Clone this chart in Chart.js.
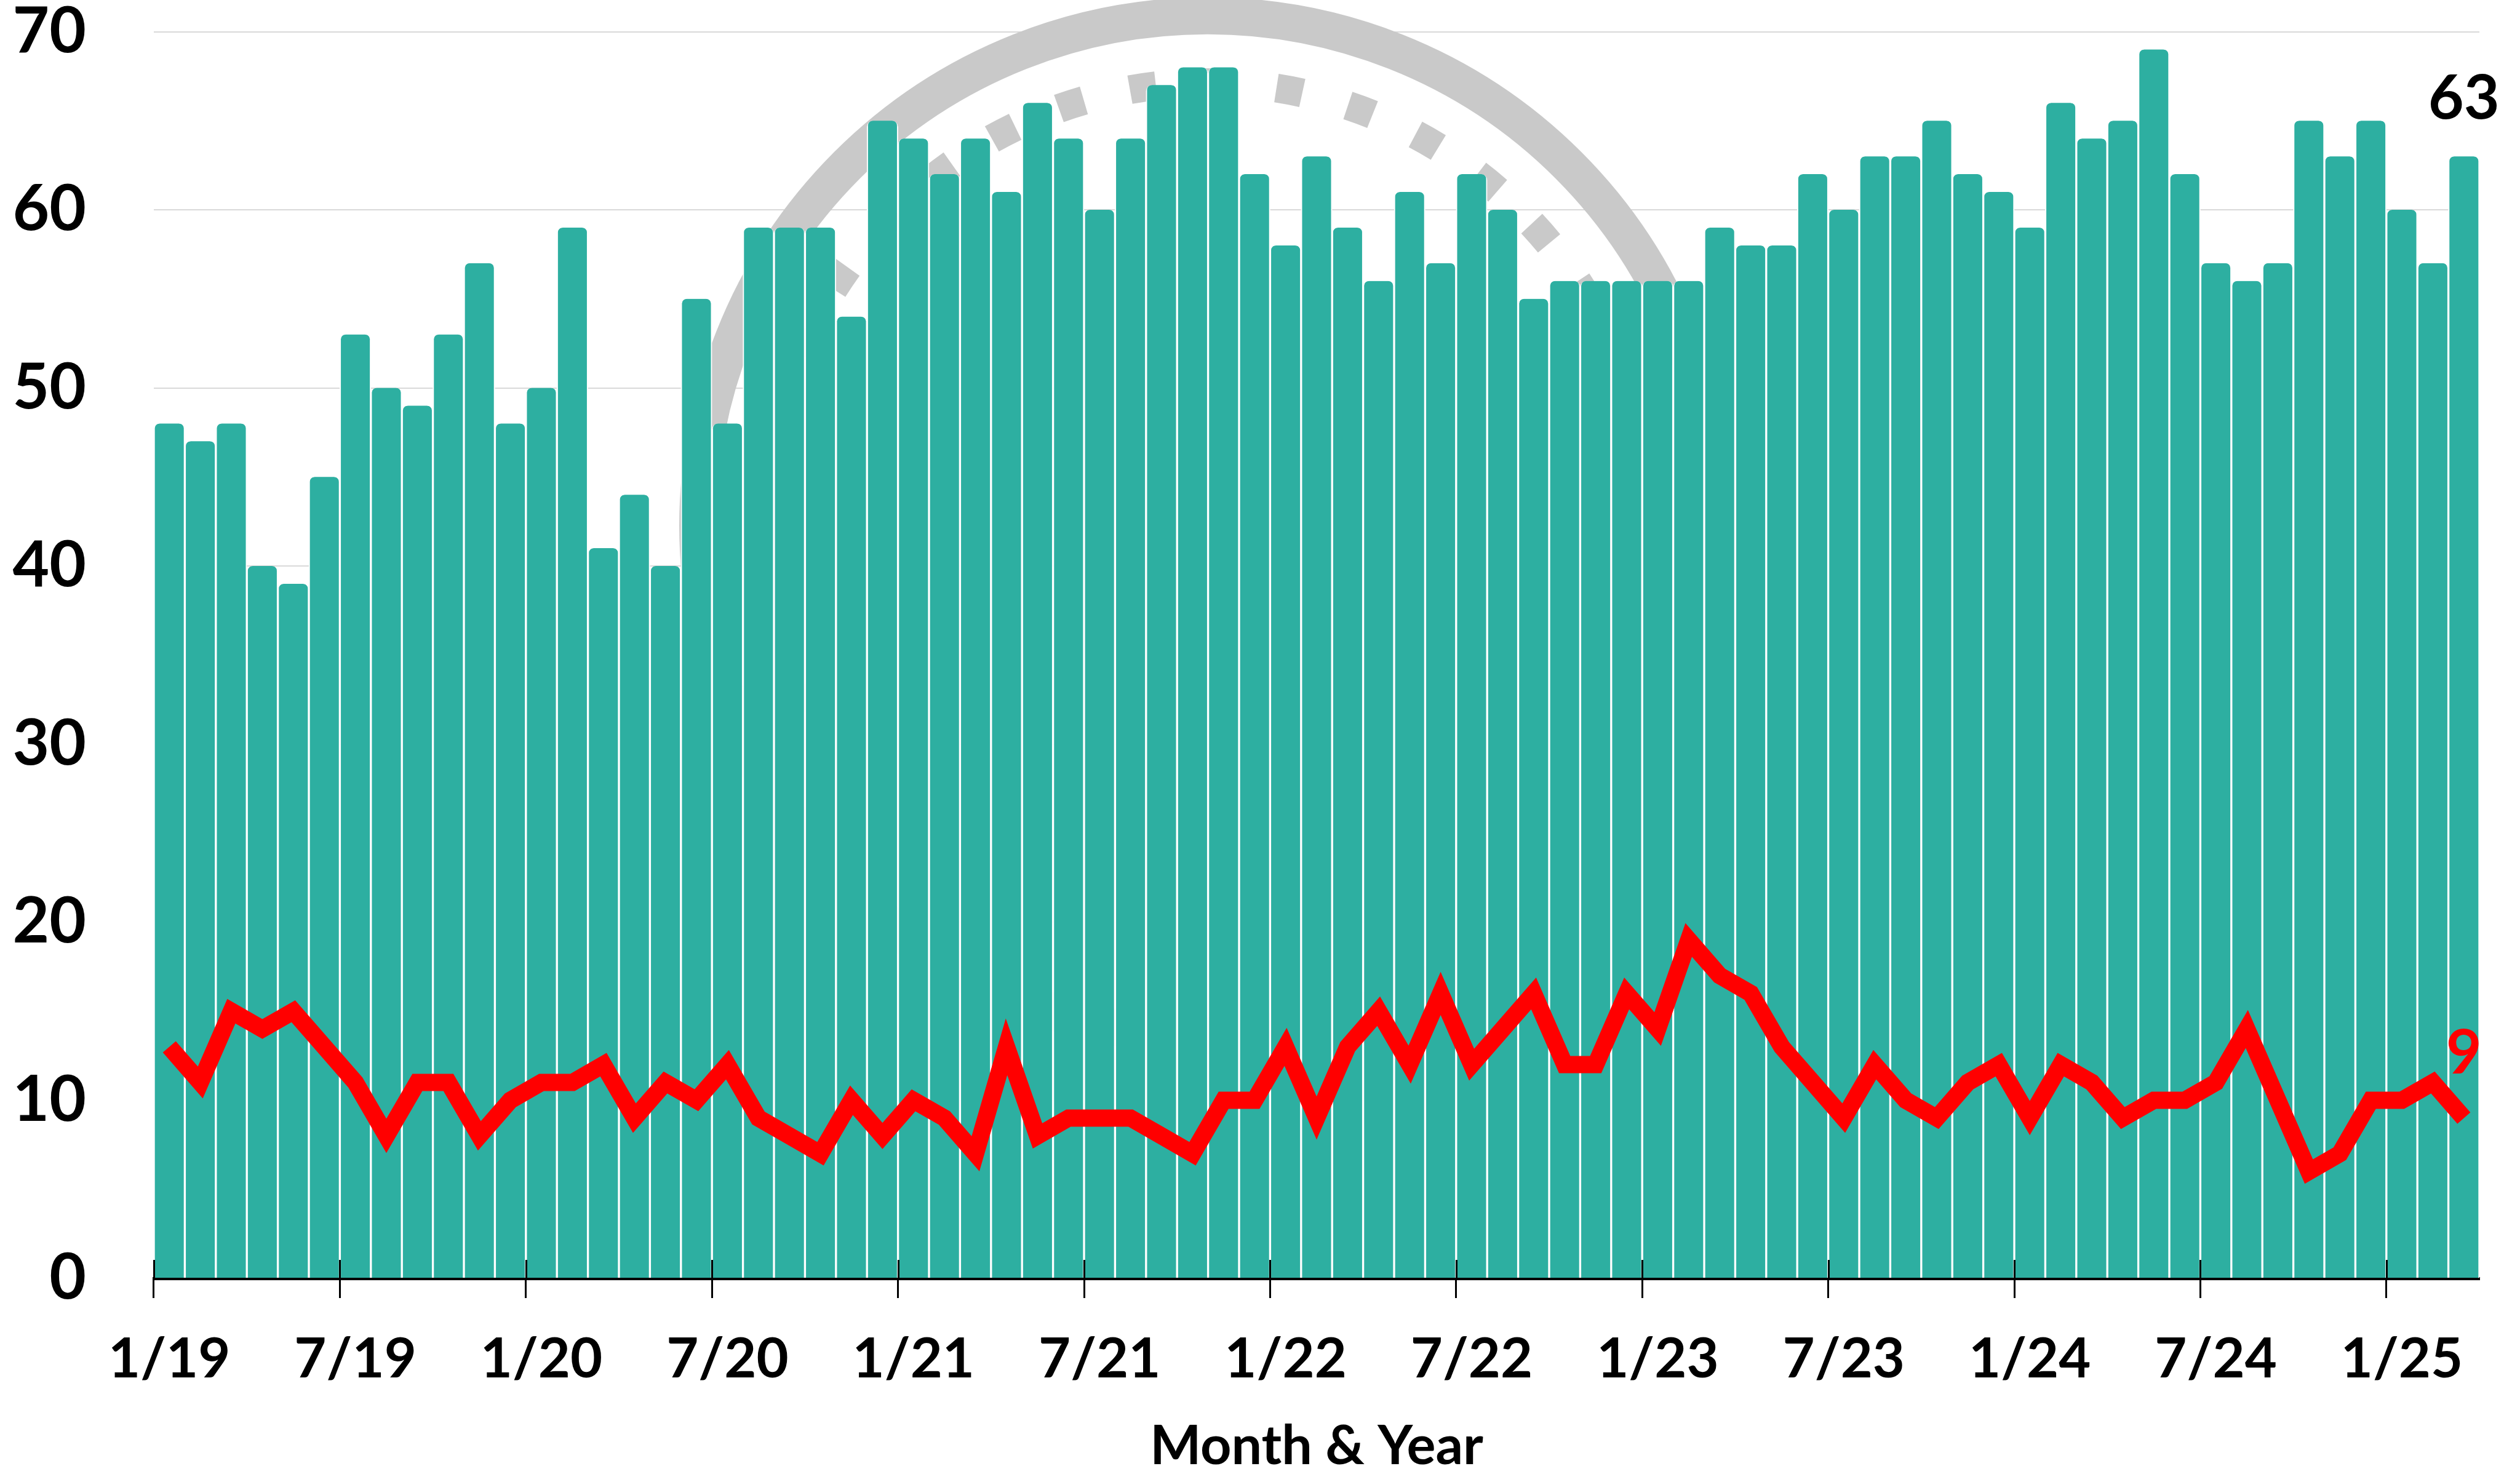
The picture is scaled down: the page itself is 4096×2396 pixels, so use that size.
<!DOCTYPE html>
<html>
<head>
<meta charset="utf-8">
<style>
html,body{margin:0;padding:0;background:#fff;}
#wrap{width:4096px;height:2396px;position:relative;}
canvas{display:block;}
</style>
<script src="https://cdn.jsdelivr.net/npm/chart.js@4/dist/chart.umd.min.js"></script>
</head>
<body>
<div id="wrap"><canvas id="c"></canvas></div>
<script>
// ---- data ----
const categories = [
 '1/19','2/19','3/19','4/19','5/19','6/19','7/19','8/19','9/19','10/19','11/19','12/19',
 '1/20','2/20','3/20','4/20','5/20','6/20','7/20','8/20','9/20','10/20','11/20','12/20',
 '1/21','2/21','3/21','4/21','5/21','6/21','7/21','8/21','9/21','10/21','11/21','12/21',
 '1/22','2/22','3/22','4/22','5/22','6/22','7/22','8/22','9/22','10/22','11/22','12/22',
 '1/23','2/23','3/23','4/23','5/23','6/23','7/23','8/23','9/23','10/23','11/23','12/23',
 '1/24','2/24','3/24','4/24','5/24','6/24','7/24','8/24','9/24','10/24','11/24','12/24',
 '1/25','2/25','3/25'
];
const barValues = [
 48,47,48,40,39,45,53,50,49,53,57,48,
 50,59,41,44,40,55,48,59,59,59,54,65,
 64,62,64,61,66,64,60,64,67,68,68,62,
 58,63,59,56,61,57,62,60,55,56,56,56,
 56,56,59,58,58,62,60,63,63,65,62,61,
 59,66,64,65,69,62,57,56,57,65,63,65,
 60,57,63
];
const lineValues = [
 13,11,15,14,15,13,11,8,11,11,8,10,
 11,11,12,9,11,10,12,9,8,7,10,8,
 10,9,7,13,8,9,9,9,8,7,10,10,
 13,9,13,15,12,16,12,14,16,12,12,16,
 14,19,17,16,13,11,9,12,10,9,11,12,
 9,12,11,9,10,10,11,14,10,6,7,10,
 10,11,9
];
const yMin = 0, yMax = 70, yStep = 10;
const labelEvery = 6;
const xTitle = 'Month & Year';

// ---- style ----
const FONT = 'Lato';
const BAR_COLOR = '#2DAFA1';
const LINE_COLOR = '#FF0000';

// watermark gauge behind the bars
const gaugePlugin = {
  id: 'gauge',
  beforeDatasetsDraw(chart) {
    const a = chart.chartArea, ctx = chart.ctx;
    const w = a.right - a.left, h = a.bottom - a.top;
    const cx = a.left + 0.4532 * w, cy = a.top + 0.3963 * h;
    ctx.save();
    ctx.strokeStyle = '#C9C9C9';
    ctx.lineCap = 'butt';
    ctx.lineWidth = 0.0159 * w;
    ctx.beginPath();
    ctx.arc(cx, cy, 0.2193 * w, 0, Math.PI * 2);
    ctx.stroke();
    ctx.lineWidth = 0.0124 * w;
    const rd = 0.1905 * w;
    for (let deg = 41.3 - 9.52 * 6; deg <= 215; deg += 9.52) {
      const s = -(deg + 1.7) * Math.PI / 180, e = -(deg - 1.7) * Math.PI / 180;
      ctx.beginPath();
      ctx.arc(cx, cy, rd, s, e);
      ctx.stroke();
    }
    ctx.restore();
  }
};

const overlayPlugin = {
  id: 'overlay',
  afterDatasetsDraw(chart) {
    const ctx = chart.ctx, a = chart.chartArea;
    const xs = chart.scales.x;
    const cat = (xs.right - xs.left) / categories.length;
    ctx.save();
    // inner part of the x tick marks
    ctx.strokeStyle = '#000';
    ctx.lineWidth = 3;
    for (let i = 0; i < categories.length; i += labelEvery) {
      const x = Math.round(xs.getPixelForValue(i) - cat / 2) + 0.5;
      ctx.beginPath();
      ctx.moveTo(x, a.bottom - 30);
      ctx.lineTo(x, a.bottom);
      ctx.stroke();
    }
    // end-value labels
    const bm = chart.getDatasetMeta(1).data;
    const lm = chart.getDatasetMeta(0).data;
    const lb = bm[bm.length - 1], ll = lm[lm.length - 1];
    ctx.textAlign = 'center';
    ctx.textBaseline = 'alphabetic';
    ctx.font = 'bold 100px ' + FONT;
    ctx.fillStyle = '#000';
    ctx.fillText(String(barValues[barValues.length - 1]), lb.x, lb.y - 61);
    ctx.fillStyle = LINE_COLOR;
    ctx.fillText(String(lineValues[lineValues.length - 1]), ll.x, ll.y - 72);
    ctx.restore();
  }
};

function build() {
  new Chart(document.getElementById('c'), {
    data: {
      labels: categories,
      datasets: [
        {
          type: 'line', data: lineValues, borderColor: LINE_COLOR, borderWidth: 28,
          pointRadius: 0, tension: 0, borderJoinStyle: 'miter', borderCapStyle: 'butt',
          fill: false, order: 0
        },
        {
          type: 'bar', data: barValues, backgroundColor: BAR_COLOR,
          borderColor: '#FFFFFF', borderWidth: { left: 2, right: 2, top: 0, bottom: 0 },
          barPercentage: 1.0, categoryPercentage: 1.0,
          borderRadius: 10, borderSkipped: 'start', order: 1
        }
      ]
    },
    options: {
      responsive: true, maintainAspectRatio: false, animation: false, devicePixelRatio: 1,
      layout: { padding: { top: 0, right: 66, bottom: 0, left: 0 } },
      plugins: { legend: { display: false }, tooltip: { enabled: false } },
      scales: {
        x: {
          type: 'category', offset: true, z: 1,
          grid: {
            display: true, drawOnChartArea: false, drawTicks: true, tickLength: 32,
            tickWidth: 3, offset: true,
            tickColor: (c) => (c.index !== undefined && c.index % labelEvery === 0 && c.index < categories.length) ? '#000' : 'rgba(0,0,0,0)'
          },
          border: { display: true, color: '#000', width: 5 },
          ticks: {
            autoSkip: false, maxRotation: 0, minRotation: 0, padding: 55, color: '#000',
            font: { family: FONT, size: 90, weight: 'bold', lineHeight: 1 },
            callback: function (v, i) { return i % labelEvery === 0 ? this.getLabelForValue(v) : ''; }
          },
          title: {
            display: true, text: xTitle, color: '#000',
            font: { family: FONT, size: 88, weight: 'bold', lineHeight: 1 },
            padding: { top: 0, bottom: 0 }
          },
          afterFit: (s) => { s.height = 318; }
        },
        y: {
          min: yMin, max: yMax,
          ticks: {
            stepSize: yStep, padding: 0, color: '#000',
            font: { family: FONT, size: 103, weight: 'bold', lineHeight: 1 }
          },
          grid: { color: '#D9D9D9', lineWidth: 2, drawTicks: true, tickLength: 110, tickColor: 'rgba(0,0,0,0)' },
          border: { display: false },
          afterFit: (s) => { s.width = 250; }
        }
      }
    },
    plugins: [gaugePlugin, overlayPlugin]
  });
}

if (document.fonts && document.fonts.load) {
  Promise.all([document.fonts.load('bold 100px Lato')]).then(build, build);
} else { build(); }
</script>
</body>
</html>
